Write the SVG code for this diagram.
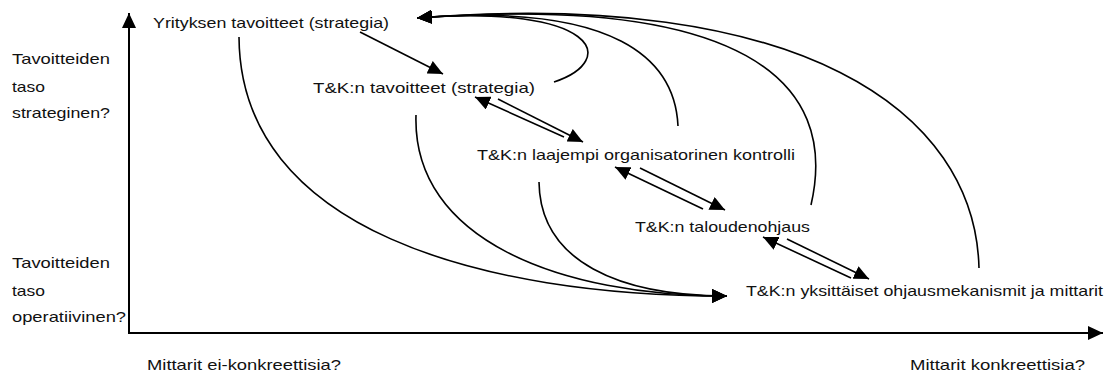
<svg xmlns="http://www.w3.org/2000/svg" width="1109" height="376" viewBox="0 0 1109 376">
<style>
text{font-family:"Liberation Sans",Arial,sans-serif;font-size:15px;fill:#111}
.ax{stroke:#000;stroke-width:2;fill:none}
.c{stroke:#000;stroke-width:1.6;fill:none}
</style>
<defs>
<marker id="ah" markerUnits="userSpaceOnUse" markerWidth="16" markerHeight="14" refX="15" refY="7" orient="auto">
<path d="M0,0 L15,7 L0,14 Z" fill="#000"/>
</marker>
</defs>
<rect width="1109" height="376" fill="#fff"/>
<g id="axes">
<path class="ax" d="M129,334 L129,13" marker-end="url(#ah)"/>
<path class="ax" d="M128,333 L1103,333" marker-end="url(#ah)"/>
</g>
<g id="axis-labels">
<text x="12" y="64" textLength="98" lengthAdjust="spacingAndGlyphs">Tavoitteiden</text>
<text x="12" y="92" textLength="33" lengthAdjust="spacingAndGlyphs">taso</text>
<text x="12" y="118" textLength="98" lengthAdjust="spacingAndGlyphs">strateginen?</text>
<text x="12" y="268" textLength="98" lengthAdjust="spacingAndGlyphs">Tavoitteiden</text>
<text x="12" y="296" textLength="33" lengthAdjust="spacingAndGlyphs">taso</text>
<text x="12" y="322" textLength="114" lengthAdjust="spacingAndGlyphs">operatiivinen?</text>
<text x="147" y="370" textLength="194" lengthAdjust="spacingAndGlyphs">Mittarit ei-konkreettisia?</text>
<text x="910" y="370" textLength="175" lengthAdjust="spacingAndGlyphs">Mittarit konkreettisia?</text>
</g>
<g id="n1"><text x="153" y="28" textLength="236" lengthAdjust="spacingAndGlyphs">Yrityksen tavoitteet (strategia)</text></g>
<g id="n2"><text x="313" y="93" textLength="222" lengthAdjust="spacingAndGlyphs">T&amp;K:n tavoitteet (strategia)</text></g>
<g id="n3"><text x="477" y="160" textLength="318" lengthAdjust="spacingAndGlyphs">T&amp;K:n laajempi organisatorinen kontrolli</text></g>
<g id="n4"><text x="635" y="232" textLength="175" lengthAdjust="spacingAndGlyphs">T&amp;K:n taloudenohjaus</text></g>
<g id="n5"><text x="746" y="296" textLength="357" lengthAdjust="spacingAndGlyphs">T&amp;K:n yksittäiset ohjausmekanismit ja mittarit</text></g>
<g id="connectors">
<path class="c" d="M360,32 L443,74" marker-end="url(#ah)"/>
<path class="c" d="M498,99 L583,142" marker-end="url(#ah)"/>
<path class="c" d="M564,137 L475,97" marker-end="url(#ah)"/>
<path class="c" d="M640,168 L725,210" marker-end="url(#ah)"/>
<path class="c" d="M703,209 L615,167" marker-end="url(#ah)"/>
<path class="c" d="M787,239 L869,279" marker-end="url(#ah)"/>
<path class="c" d="M851,278 L763,237" marker-end="url(#ah)"/>
<path class="c" d="M239,37 C240,230 480,296 727,296" marker-end="url(#ah)"/>
<path class="c" d="M416,115 C412,240 560,296 727,296" marker-end="url(#ah)"/>
<path class="c" d="M539,182 C540,262 620,296 727,296" marker-end="url(#ah)"/>
<path class="c" d="M554,82 C620,60 597,4 417,18" marker-end="url(#ah)"/>
<path class="c" d="M678,126 C675,60 617,2 417,18" marker-end="url(#ah)"/>
<path class="c" d="M811,205 C840,80 740,-6 417,18" marker-end="url(#ah)"/>
<path class="c" d="M979,268 C975,110 800,-12 417,18" marker-end="url(#ah)"/>
</g>
</svg>
